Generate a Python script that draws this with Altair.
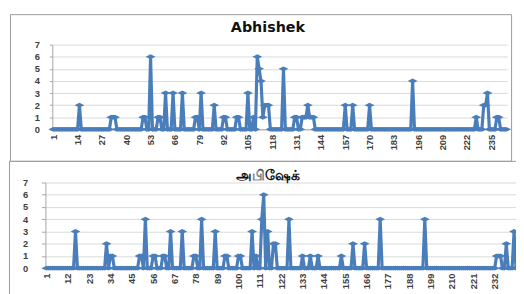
import altair as alt
import pandas as pd

N_POINTS = 243

titles = ["Abhishek", "அபிஷேக்"]

# Non-zero points (position, value); every other position is 0
top_idx = [15, 32, 33, 34, 49, 50, 53, 57, 58, 61, 65, 70, 77, 78, 80, 87, 92, 93, 99, 100,
           105, 108, 110, 111, 112, 113, 114, 115, 116, 124, 130, 131, 134, 135, 136, 137, 138,
           139, 140, 157, 161, 170, 193, 227, 231, 232, 233, 238, 239]
top_val = [2, 1, 1, 1, 1, 1, 6, 1, 1, 3, 3, 3, 1, 1, 3, 2, 1, 1, 1, 1,
           3, 1, 6, 5, 4, 1, 2, 2, 2, 5, 1, 1, 1, 1, 1, 2, 1,
           1, 1, 2, 2, 2, 4, 1, 2, 2, 3, 1, 1]

bottom_idx = [16, 32, 34, 35, 49, 50, 52, 56, 57, 61, 62, 65, 71, 77, 78, 81, 88, 93, 94, 100,
              101, 107, 109, 112, 113, 115, 118, 119, 126, 133, 137, 141, 153, 159, 165, 173,
              196, 233, 234, 235, 238, 242]
bottom_val = [3, 2, 1, 1, 1, 1, 4, 1, 1, 1, 1, 3, 3, 1, 1, 4, 3, 1, 1, 1,
              1, 3, 1, 4, 6, 3, 2, 2, 4, 1, 1, 1, 1, 2, 2, 4,
              4, 1, 1, 1, 2, 3]

top_ticks = [1, 14, 27, 40, 53, 66, 79, 92, 105, 118, 131, 144, 157, 170, 183, 196, 209, 222, 235]
bottom_ticks = [1, 12, 23, 34, 45, 56, 67, 78, 89, 100, 111, 122, 133, 144, 155, 166, 177, 188,
                199, 210, 221, 232]
y_ticks = [0, 1, 2, 3, 4, 5, 6, 7]


def series(idx, val):
    lookup = dict(zip(idx, val))
    pos = list(range(1, N_POINTS + 1))
    return pd.DataFrame({"i": pos, "v": [lookup.get(p, 0) for p in pos]})


top_df = series(top_idx, top_val)
bottom_df = series(bottom_idx, bottom_val)

BLUE = "#4A7EBB"
GRID = "#D9D9D9"
AXIS = "#A6A6A6"
LABEL = "#404040"
FONT = "Liberation Sans"
DIAMOND = "M-1,0L0,-0.5L1,0L0,0.5Z"

W, H = 516, 286


def panel(df, ticks, x_range, y_range, y_off, x_off, tick_size, y_pad):
    x = alt.X(
        "i:Q",
        scale=alt.Scale(domain=[0.5, N_POINTS + 0.5], range=x_range, nice=False, zero=False),
        axis=alt.Axis(values=ticks, orient="bottom", offset=x_off, title=None, grid=False,
                      ticks=False, labelAngle=270, labelFlush=False, labelOverlap=False,
                      labelPadding=5, labelFontSize=9.5, labelFont=FONT, labelFontWeight="bold",
                      labelColor=LABEL, domainColor=AXIS, domainWidth=1),
    )
    y = alt.Y(
        "v:Q",
        scale=alt.Scale(domain=[0, 7], range=y_range, nice=False, zero=True),
        axis=alt.Axis(values=y_ticks, orient="left", offset=y_off, title=None, grid=True,
                      gridColor=GRID, gridWidth=1, ticks=True, tickSize=tick_size,
                      tickColor=AXIS, domainColor=AXIS, labelPadding=y_pad, labelFontSize=9.5,
                      labelFont=FONT, labelFontWeight="bold", labelColor=LABEL),
    )
    return alt.Chart(df).mark_line(
        color=BLUE, strokeWidth=3.2, strokeJoin="round",
        point=alt.OverlayMarkDef(shape=DIAMOND, size=100, filled=True, color=BLUE, opacity=1),
    ).encode(x=x, y=y)


one = pd.DataFrame({"k": [0]})


def frame(x0, y0, x1, y1):
    return alt.Chart(one).mark_rect(fillOpacity=0, stroke="#9A9A9A", strokeWidth=1).encode(
        x=alt.value(x0), x2=alt.value(x1), y=alt.value(y0), y2=alt.value(y1)
    )


def title_text(t, cx, cy, size):
    return alt.Chart(pd.DataFrame({"t": [t]})).mark_text(
        font="DejaVu Sans", fontSize=size, fontWeight="bold", color="#111111",
        align="center", baseline="middle",
    ).encode(x=alt.value(cx), y=alt.value(cy), text="t:N")


top_panel = panel(top_df, top_ticks, [45, 507], [121, 35], -45, -165, 3, 10)
bottom_panel = panel(bottom_df, bottom_ticks, [38, 517], [262, 175], -38, -24, 4, 14)

chart = alt.layer(
    frame(2.5, 4.5, 511.5, 153.5),
    frame(1.5, 153.5, 540, 300),
    top_panel,
    bottom_panel,
    title_text(titles[0], 264, 18, 14.5),
    title_text(titles[1], 264, 168, 14),
).resolve_scale(
    x="independent", y="independent"
).resolve_axis(
    x="independent", y="independent"
).properties(
    width=W, height=H, padding=0, autosize=alt.AutoSizeParams(type="none")
).configure_view(strokeWidth=0)

chart.save("out.html", embed_options={"renderer": "svg", "actions": False})
